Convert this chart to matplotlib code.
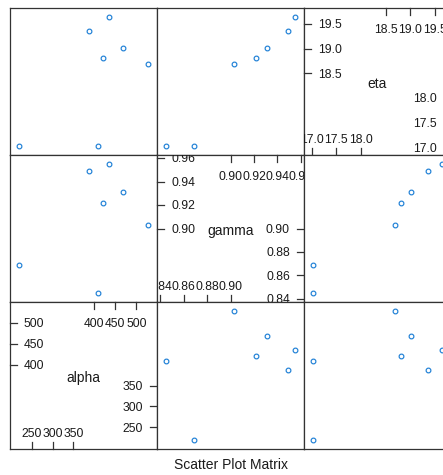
import matplotlib
matplotlib.use("Agg")
import matplotlib.pyplot as plt
import matplotlib.transforms as mtransforms

plt.rcParams['font.family'] = ['Liberation Sans', 'DejaVu Sans']

# variables, in the order of the matrix columns (left to right)
var_names = ["alpha", "gamma", "eta"]
alpha = [220, 408, 386, 436, 468, 420, 528]
gamma = [0.869, 0.845, 0.949, 0.955, 0.931, 0.922, 0.903]
eta = [17.03, 17.03, 19.35, 19.64, 19.02, 18.82, 18.68]

# axis ticks drawn inside the diagonal panels:
# lower values on the bottom/right edges, upper values on the top/left edges
alpha_ticks_low = [250, 300, 350]
alpha_ticks_high = [400, 450, 500]
gamma_ticks_low = [0.84, 0.86, 0.88, 0.90]
gamma_ticks_high = [0.90, 0.92, 0.94, 0.96]
eta_ticks_low = [17.0, 17.5, 18.0]
eta_ticks_high = [18.5, 19.0, 19.5]

title = "Scatter Plot Matrix"

data = {"alpha": alpha, "gamma": gamma, "eta": eta}
ticks_low = {"alpha": alpha_ticks_low, "gamma": gamma_ticks_low, "eta": eta_ticks_low}
ticks_high = {"alpha": alpha_ticks_high, "gamma": gamma_ticks_high, "eta": eta_ticks_high}
tick_fmt = {"alpha": "{:.0f}", "gamma": "{:.2f}", "eta": "{:.1f}"}

W, H, DPI = 443, 475, 100
fig = plt.figure(figsize=(W / DPI, H / DPI), dpi=DPI)
fig.patch.set_facecolor("white")

PANEL = 147          # panel size in pixels
LEFT0, TOP0 = 10, 8  # top-left corner of the matrix in pixels
FRAME = "#333333"
POINT = "#1f80d6"
TEXT = "#1a1a1a"
TICK_LEN = 7
LABEL_OFF = 14
TICK_FS = 8.7
DIGIT_HALF = 4.3


def limits(values):
    lo, hi = min(values), max(values)
    pad = 0.07 * (hi - lo)
    return lo - pad, hi + pad


n = len(var_names)
for r in range(n):
    yname = var_names[n - 1 - r]
    for c in range(n):
        xname = var_names[c]
        ax = fig.add_axes([(LEFT0 + c * PANEL) / W,
                           1 - (TOP0 + (r + 1) * PANEL) / H,
                           PANEL / W, PANEL / H])
        ax.set_xlim(limits(data[xname]))
        ax.set_ylim(limits(data[yname]))
        ax.set_xticks([])
        ax.set_yticks([])
        for s in ax.spines.values():
            s.set_color(FRAME)
            s.set_linewidth(0.9)

        if xname != yname:
            ax.plot(data[xname], data[yname], linestyle="none", marker="o",
                    markersize=3.4, markerfacecolor="none",
                    markeredgecolor=POINT, markeredgewidth=0.85)
            continue

        # diagonal panel: variable name and its scale
        name_tr = mtransforms.offset_copy(ax.transAxes, fig=fig, x=0, y=-6.7, units="dots")
        ax.text(0.5, 0.5, xname, transform=name_tr, ha="center", va="baseline",
                fontsize=10, color=TEXT)

        fmt = tick_fmt[xname]
        by = mtransforms.blended_transform_factory(ax.transAxes, ax.transData)
        bx = mtransforms.blended_transform_factory(ax.transData, ax.transAxes)
        ty = mtransforms.offset_copy(by, fig=fig, x=0, y=-DIGIT_HALF, units="dots")
        f = 1 / PANEL

        for v in ticks_high[xname]:
            # left edge
            ax.plot([0, TICK_LEN * f], [v, v], transform=by, color=FRAME, lw=0.9,
                    clip_on=False)
            ax.text(LABEL_OFF * f, v, fmt.format(v), transform=ty, ha="left",
                    va="baseline", fontsize=TICK_FS, color=TEXT, clip_on=True)
            # top edge
            ax.plot([v, v], [1, 1 - TICK_LEN * f], transform=bx, color=FRAME, lw=0.9,
                    clip_on=False)
            ax.text(v, 1 - 24.8 * f, fmt.format(v), transform=bx, ha="center",
                    va="baseline", fontsize=TICK_FS, color=TEXT, clip_on=True)

        for v in ticks_low[xname]:
            # right edge
            ax.plot([1 - TICK_LEN * f, 1], [v, v], transform=by, color=FRAME, lw=0.9,
                    clip_on=False)
            ax.text(1 - LABEL_OFF * f, v, fmt.format(v), transform=ty, ha="right",
                    va="baseline", fontsize=TICK_FS, color=TEXT, clip_on=True)
            # bottom edge
            ax.plot([v, v], [0, TICK_LEN * f], transform=bx, color=FRAME, lw=0.9,
                    clip_on=False)
            ax.text(v, 12.3 * f, fmt.format(v), transform=bx, ha="center",
                    va="baseline", fontsize=TICK_FS, color=TEXT, clip_on=True)

fig.text((LEFT0 + 1.5 * PANEL) / W, (H - 469) / H, title, ha="center",
         va="baseline", fontsize=10, color=TEXT)

fig.savefig("out.png", dpi=DPI, facecolor="white")
